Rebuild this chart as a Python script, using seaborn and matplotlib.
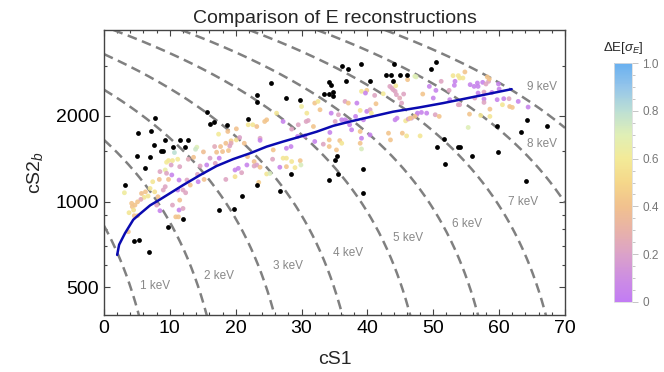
import numpy as np
import pandas as pd
import matplotlib
matplotlib.use("Agg")
import matplotlib.pyplot as plt
from matplotlib.colors import LinearSegmentedColormap, Normalize
from matplotlib.ticker import FixedLocator, NullFormatter, MultipleLocator
import seaborn as sns

# ---------------- data ----------------
title = "Comparison of E reconstructions"

# colored events: cS1, cS2_b, Delta E [sigma_E]
s1_col = [14.1, 13.9, 10.7, 11.2, 10.4, 9.8, 9.5, 9.3, 10.2, 11.5, 11.4, 12.8, 13.6, 15.1, 16.8, 17.1,
          17.7, 18.0, 18.5, 18.9, 19.3, 19.3, 20.1, 20.1, 17.4, 18.8, 20.6, 21.3, 21.9, 22.6, 23.2, 21.8,
          22.8, 23.2, 19.1, 16.1, 15.6, 14.6, 17.5, 18.5, 19.9, 20.4, 19.9, 21.7, 22.8, 16.9, 14.3, 14.2,
          15.2, 12.6, 12.0, 13.1, 11.2, 10.4, 11.4, 12.0, 11.5, 12.4, 8.5, 9.5, 9.8, 8.4, 10.3, 9.3,
          9.0, 8.2, 8.0, 8.5, 7.7, 7.4, 7.0, 6.7, 6.3, 6.1, 5.7, 5.6, 5.1, 4.7, 4.3, 4.5,
          4.6, 5.1, 3.8, 4.2, 3.1, 10.9, 11.3, 3.7, 20.9, 23.5,
          39.1, 39.9, 39.7, 41.1, 42.4, 43.4, 43.7, 43.9, 44.2, 44.4, 44.9, 45.2, 45.5, 47.2, 46.1, 44.3,
          32.0, 32.5, 30.0, 30.8, 32.8, 34.5, 35.6, 36.6, 37.1, 38.4, 38.9, 39.9, 40.4, 41.3, 38.2, 39.4,
          40.6, 36.1, 36.6, 36.9, 35.1, 24.7, 24.4, 26.2, 27.2, 28.5, 29.5, 30.7, 31.0, 31.8, 29.4, 30.5,
          32.0, 33.3, 34.2, 34.2, 34.3, 35.8, 36.1, 35.3, 37.3, 37.6, 38.9, 39.1, 38.9, 39.1, 40.4, 43.2,
          43.5, 45.3, 45.95, 44.5, 44.2, 45.8, 46.2, 46.7, 47.5, 25.7, 27.2, 27.7, 25.6, 28.5, 26.7, 27.7,
          29.8, 29.9, 29.0, 24.7, 25.2, 23.7, 28.4, 27.7, 23.7, 23.7,
          47.4, 53.0, 53.8, 54.0, 54.5, 54.8, 51.2, 53.3, 53.2, 52.4, 49.4, 50.4, 48.4, 55.6, 56.2, 56.7,
          56.8, 57.5, 58.2, 58.4, 58.5, 58.0, 59.9, 60.0, 56.8, 57.7, 58.9, 50.0, 52.5, 53.8, 54.0, 56.3,
          57.7, 59.7, 60.7, 61.5, 62.9, 60.5, 61.6, 62.0, 64.4, 57.7, 58.6, 47.6, 48.2, 49.0, 47.2, 46.5,
          50.3, 50.9, 55.5, 57.2, 58.6, 55.3, 48.0]
s2_col = [1552, 1526, 1486, 1408, 1393, 1393, 1374, 1291, 1344, 1326, 1190, 1408, 1430, 1494, 1560, 1490,
          1560, 1498, 1602, 1510, 1634, 1602, 1800, 1646, 1724, 1762, 1678, 1602, 1860, 1860, 1834, 1438,
          1382, 1344, 1568, 1420, 1344, 1333, 1420, 1196, 1223, 1308, 1291, 1344, 1333, 1362, 1174, 1246,
          1196, 1190, 1098, 1143, 1098, 972, 934, 946, 1012, 1074, 1274, 1257, 1196, 1196, 1240, 1128,
          1098, 1040, 972, 929, 1082, 1174, 1112, 1046, 1082, 1035, 1068, 1018, 998, 972, 960, 934,
          892, 892, 914, 986, 1074, 884, 884, 784, 1263, 1168,
          2437, 2456, 2403, 2358, 2390, 2536, 2503, 2470, 2437, 2372, 2308, 2216, 2384, 2751, 2678, 2550,
          2216, 2246, 2156, 2043, 2100, 2043, 2017, 2246, 2216, 2216, 2088, 2072, 2100, 2204, 1990, 1936,
          2043, 1936, 1936, 1910, 1910, 1936, 1910, 2043, 1910, 1796, 1860, 1910, 1925, 1834, 1692, 1700,
          1625, 1590, 1560, 1646, 1748, 1637, 1602, 1518, 1860, 1786, 1762, 1668, 1602, 1530, 1714, 1738,
          1646, 1738, 1700, 1962, 1936, 1920, 1948, 1962, 2017, 1518, 1420, 1420, 1408, 1382, 1320, 1326,
          1392, 1344, 1316, 1250, 1255, 1320, 1560, 1538, 1668, 1640,
          2738, 2766, 2766, 2714, 2714, 2850, 2642, 2642, 2558, 2456, 2536, 2456, 2384, 2572, 2536, 2606,
          2536, 2620, 2738, 2642, 2692, 2586, 2586, 2482, 2403, 2422, 2415, 2308, 2278, 2187, 2187, 2308,
          2290, 2278, 2296, 2296, 2246, 2187, 2156, 2140, 2146, 2228, 2110, 2043, 2055, 2043, 1990, 1962,
          2017, 1990, 2027, 2005, 1990, 1820, 1700]
de_col = [0.70, 0.75, 0.80, 0.60, 0.58, 0.58, 0.60, 0.65, 0.20, 0.22, 0.05, 0.25, 0.40, 0.38, 0.25, 0.40,
          0.40, 0.40, 0.40, 0.42, 0.45, 0.25, 0.40, 0.55, 0.60, 0.40, 0.20, 0.40, 0.58, 0.58, 0.40, 0.40,
          0.40, 0.20, 0.22, 0.20, 0.05, 0.22, 0.05, 0.22, 0.55, 0.05, 0.05, 0.05, 0.22, 0.22, 0.05, 0.22,
          0.40, 0.22, 0.22, 0.40, 0.05, 0.22, 0.05, 0.22, 0.40, 0.22, 0.22, 0.22, 0.40, 0.40, 0.05, 0.22,
          0.22, 0.40, 0.22, 0.05, 0.55, 0.58, 0.58, 0.58, 0.42, 0.58, 0.40, 0.25, 0.42, 0.42, 0.42, 0.55,
          0.42, 0.42, 0.58, 0.42, 0.62, 0.42, 0.42, 0.42, 0.22, 0.45,
          0.58, 0.45, 0.05, 0.22, 0.60, 0.22, 0.22, 0.22, 0.22, 0.22, 0.25, 0.22, 0.22, 0.70, 0.42, 0.58,
          0.42, 0.58, 0.62, 0.58, 0.42, 0.05, 0.22, 0.22, 0.42, 0.05, 0.58, 0.05, 0.22, 0.42, 0.05, 0.05,
          0.58, 0.05, 0.05, 0.05, 0.22, 0.42, 0.42, 0.58, 0.05, 0.22, 0.22, 0.22, 0.22, 0.42, 0.05, 0.05,
          0.05, 0.22, 0.42, 0.42, 0.05, 0.42, 0.58, 0.42, 0.05, 0.05, 0.42, 0.05, 0.42, 0.72, 0.05, 0.42,
          0.42, 0.42, 0.58, 0.05, 0.05, 0.58, 0.22, 0.22, 0.22, 0.42, 0.58, 0.58, 0.22, 0.58, 0.05, 0.42,
          0.42, 0.72, 0.58, 0.58, 0.72, 0.42, 0.05, 0.05, 0.22, 0.05,
          0.70, 0.58, 0.58, 0.58, 0.58, 0.42, 0.22, 0.05, 0.05, 0.22, 0.05, 0.05, 0.42, 0.05, 0.05, 0.05,
          0.05, 0.05, 0.42, 0.22, 0.42, 0.22, 0.05, 0.05, 0.05, 0.22, 0.05, 0.05, 0.05, 0.22, 0.22, 0.22,
          0.05, 0.05, 0.05, 0.22, 0.05, 0.58, 0.42, 0.42, 0.05, 0.22, 0.42, 0.05, 0.05, 0.05, 0.42, 0.42,
          0.22, 0.42, 0.42, 0.58, 0.58, 0.70, 0.58]

# black events
s1_blk = [23.3, 23.2, 15.6, 16.1, 16.7, 18.7, 21.9, 7.8, 5.2, 7.2, 9.3, 11.5, 12.7, 7.6, 10.5, 12.3,
          8.7, 9.0, 5.0, 7.0, 6.2, 23.3, 3.2, 21.0, 17.5, 19.7, 12.0, 9.7, 4.6, 5.3, 6.8, 26.8,
          25.4, 27.6, 29.7, 36.1, 37.1, 39.1, 36.8, 34.2, 34.5, 33.4, 34.1, 34.7, 34.8, 40.4, 42.8, 43.6,
          44.1, 43.9, 44.9, 46.0, 35.4, 35.1, 35.5, 34.1, 28.4, 39.3, 39.3,
          50.4, 49.6, 64.3, 67.3, 63.3, 59.7, 51.6, 50.6, 53.7, 54.0, 55.9, 59.9, 51.8, 64.1]
s2_blk = [2370, 2229, 2070, 1874, 1900, 1860, 1952, 1963, 1740, 1775, 1646, 1646, 1646, 1581, 1559, 1559,
          1508, 1508, 1450, 1430, 1315, 1140, 1140, 1046, 931, 940, 870, 816, 725, 731, 665, 1085,
          2598, 2308, 2277, 2984, 2922, 3047, 2640, 2620, 2560, 2386, 2386, 2430, 2351, 2640, 2790, 2790,
          3047, 2640, 2785, 2790, 1446, 1400, 1250, 1194, 1250, 1302, 1071,
          3083, 2922, 1936, 1835, 1748, 1835, 1655, 1548, 1548, 1548, 1450, 1497, 1360, 1180]

# mean reconstruction curve
s1_fit = [2.0, 2.3, 3.2, 4.45, 5.5, 7.0, 8.5, 12.0, 14.6, 17.1, 19.6, 22.2, 24.7, 27.2, 29.8, 32.3,
          34.8, 37.4, 43.9, 47.9, 51.5, 56.5, 61.9]
s2_fit = [650, 706, 775, 864, 907, 970, 1017, 1142, 1239, 1333, 1409, 1478, 1559, 1624, 1690, 1759,
          1844, 1910, 2067, 2140, 2216, 2339, 2480]

# energy contours E = (cS1/a + cS2/b)
energies = [1, 2, 3, 4, 5, 6, 7, 8, 9]
a_s1 = 10.3   # cS1 per keV
b_s2 = 823.0  # cS2 per keV
label_s1 = [7.7, 17.5, 28.0, 37.1, 46.1, 55.2, 63.7, 66.5, 66.5]
label_s2 = [505, 550, 593, 662, 743, 833, 1000, 1594, 2524]

x_ticks = [0, 10, 20, 30, 40, 50, 60, 70]
y_ticks = [500, 1000, 2000]
y_minor = [600, 700, 800, 900, 1500, 3000]
cb_ticks = [0, 0.2, 0.4, 0.6, 0.8, 1.0]

# ---------------- style ----------------
sns.set_style("ticks")
plt.rcParams['font.family'] = ['Liberation Sans', 'DejaVu Sans']
plt.rcParams['mathtext.fontset'] = 'custom'
plt.rcParams['mathtext.rm'] = 'Liberation Sans'
plt.rcParams['mathtext.it'] = 'Liberation Sans:italic'
plt.rcParams['lines.scale_dashes'] = False

cmap = LinearSegmentedColormap.from_list("de", [
    (0.0, "#c27cf4"), (0.1, "#cd8ee2"), (0.2, "#dba2c8"), (0.3, "#e8b2a8"),
    (0.4, "#f1c18e"), (0.5, "#f5d78a"), (0.6, "#f3ea98"), (0.7, "#e0efb6"),
    (0.8, "#bcdfd4"), (0.9, "#95c5ea"), (1.0, "#68b0f0")])

fig = plt.figure(figsize=(6.64, 3.72), dpi=100)
ax = fig.add_axes([0.1566, 0.1532, 0.6943, 0.7662])
cax = fig.add_axes([0.9247, 0.1882, 0.0271, 0.6424])

# energy contours
for E in energies:
    lo = max(0.0, a_s1 * (E - 4000 / b_s2))
    hi = min(70.0, a_s1 * (E - 380 / b_s2))
    xs = np.linspace(lo, hi, 300)
    ys = b_s2 * (E - xs / a_s1)
    ax.plot(xs, ys, color="#808080", lw=1.8, dashes=(7, 4), zorder=1)

df_col = pd.DataFrame({"cS1": s1_col, "cS2": s2_col, "dE": de_col})
df_blk = pd.DataFrame({"cS1": s1_blk, "cS2": s2_blk})
df_fit = pd.DataFrame({"cS1": s1_fit, "cS2": s2_fit})

sns.scatterplot(data=df_col, x="cS1", y="cS2", hue="dE", palette=cmap, hue_norm=(0, 1),
                s=12, linewidth=0, alpha=0.9, legend=False, ax=ax, zorder=2)
sns.scatterplot(data=df_blk, x="cS1", y="cS2", color="black", s=12, linewidth=0,
                legend=False, ax=ax, zorder=3)
sns.lineplot(data=df_fit, x="cS1", y="cS2", color="#0a0ab0", lw=1.8, sort=False,
             estimator=None, ax=ax, zorder=4)

for E, lx, ly in zip(energies, label_s1, label_s2):
    ax.text(lx, ly, f"{E} keV", color="#888888", fontsize=8.5, ha="center", va="center", zorder=5)

ax.set_yscale("log")
ax.set_xlim(0, 70)
ax.set_ylim(400, 4000)
ax.set_xticks(x_ticks)
ax.set_xticklabels([str(t) for t in x_ticks])
ax.xaxis.set_minor_locator(MultipleLocator(2))
ax.yaxis.set_major_locator(FixedLocator(y_ticks))
ax.yaxis.set_minor_locator(FixedLocator(y_minor))
ax.set_yticklabels([str(t) for t in y_ticks])
ax.yaxis.set_minor_formatter(NullFormatter())
ax.tick_params(which="both", direction="in", top=True, right=True, colors="#444444",
               labelcolor="black", labelsize=14, width=0.8)
ax.tick_params(which="major", length=4.5)
ax.tick_params(which="minor", length=2.5)
for sp in ax.spines.values():
    sp.set_visible(True)
    sp.set_color("#444444")
    sp.set_linewidth(1.0)
ax.set_xlabel("cS1", fontsize=14, labelpad=10)
ax.set_ylabel("cS2$_b$", fontsize=14, labelpad=8)
ax.set_title(title, fontsize=14, pad=5)

# colorbar
sm = plt.cm.ScalarMappable(norm=Normalize(0, 1), cmap=cmap)
cb = fig.colorbar(sm, cax=cax, ticks=cb_ticks)
cb.ax.set_yticklabels(["0", "0.2", "0.4", "0.6", "0.8", "1.0"])
cb.ax.yaxis.set_minor_locator(MultipleLocator(0.05))
cb.ax.tick_params(which="both", colors="#bbbbbb", labelcolor="#777777", labelsize=8.5,
                  direction="out", width=0.6)
cb.ax.tick_params(which="major", length=4)
cb.ax.tick_params(which="minor", length=2)
cb.outline.set_edgecolor("#dddddd")
cb.outline.set_linewidth(0.6)
cax.set_title(r"$\Delta$E[$\sigma_E$]", fontsize=9.5, pad=9)

fig.savefig("out.png", dpi=100)
